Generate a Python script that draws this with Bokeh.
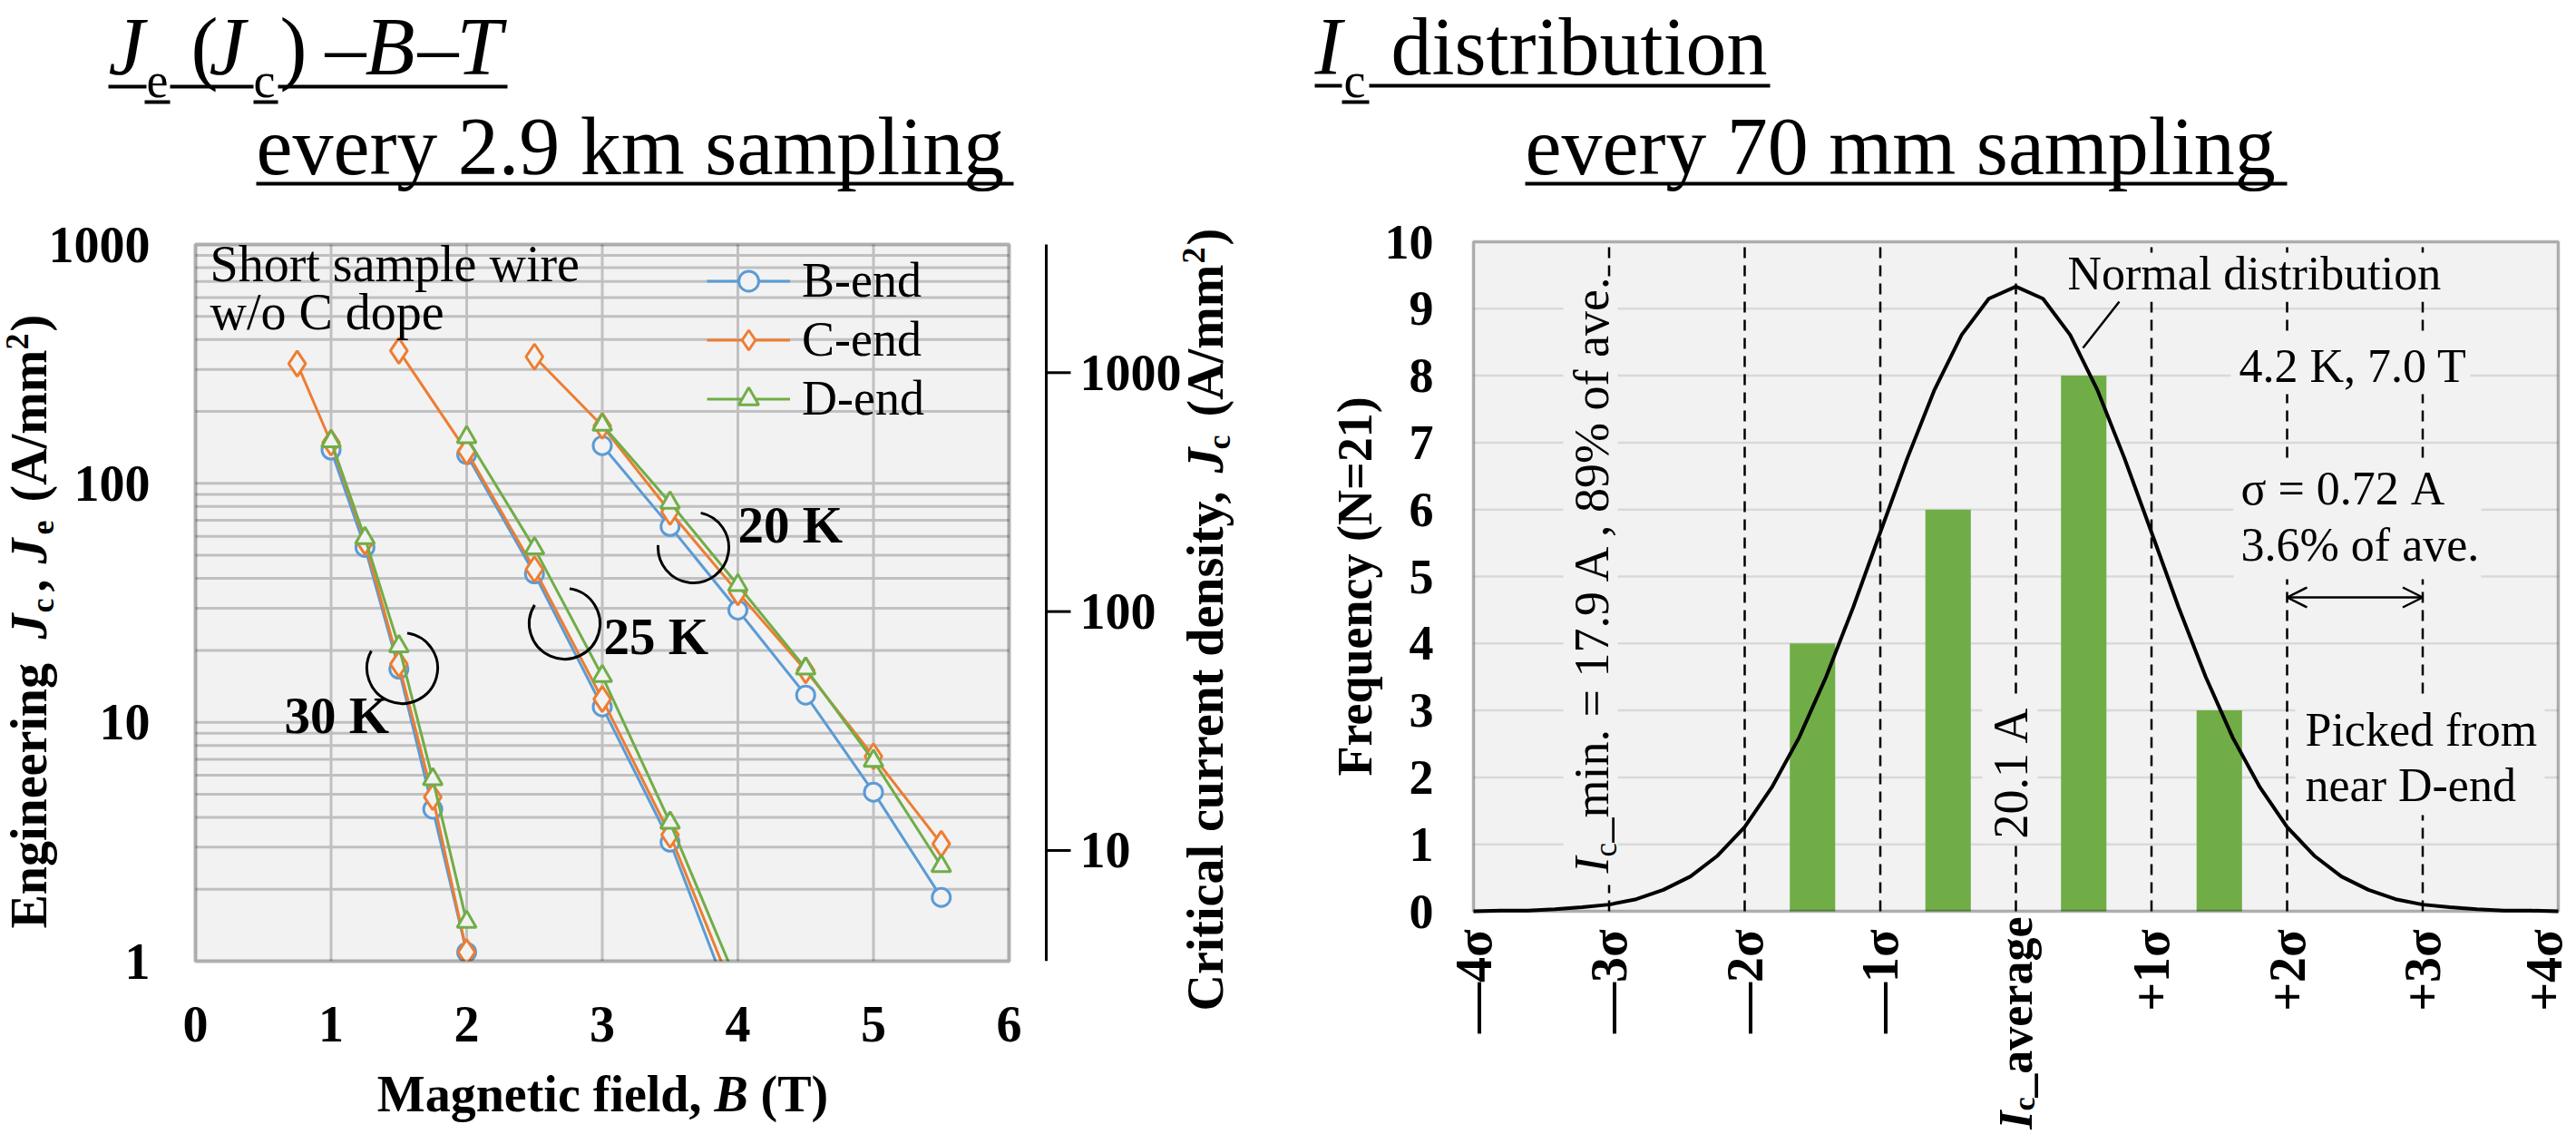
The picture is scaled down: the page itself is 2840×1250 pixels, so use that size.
import numpy as np
from bokeh.plotting import figure
from bokeh.models import (Range1d, Label, BoxAnnotation, Legend, LegendItem, Arrow, OpenHead, LogScale)
from bokeh.layouts import row
from bokeh.embed import file_html
from bokeh.resources import INLINE

FONT = "Liberation Serif"
BLUE, ORANGE, GREEN = "#5b9bd5", "#ed7d31", "#70ad47"

# ---------------- data : left chart, Je(B) at 30 K / 25 K / 20 K ----------------
bend_B_30 = [1.0, 1.25, 1.5, 1.75, 2.0]
bend_Je_30 = [138, 54, 16.7, 4.33, 1.09]
bend_B_25 = [2.0, 2.5, 3.0, 3.5, 4.0]
bend_Je_25 = [132, 41.8, 11.6, 3.15, 0.57]
bend_B_20 = [3.0, 3.5, 4.0, 4.5, 5.0, 5.5]
bend_Je_20 = [144, 66, 29.5, 13.0, 5.1, 1.85]

cend_B_30 = [0.75, 1.0, 1.25, 1.5, 1.75, 2.0]
cend_Je_30 = [317, 148, 57, 17.5, 4.86, 1.09]
cend_B_25 = [1.5, 2.0, 2.5, 3.0, 3.5, 4.0]
cend_Je_25 = [359, 136, 43.7, 12.5, 3.38, 0.67]
cend_B_20 = [2.5, 3.0, 3.5, 4.0, 4.5, 5.0, 5.5]
cend_Je_20 = [339, 174, 76, 35, 16.5, 7.2, 3.1]

dend_B_30 = [1.0, 1.25, 1.5, 1.75, 2.0]
dend_Je_30 = [150, 59, 20.8, 5.78, 1.46]
dend_B_25 = [2.0, 2.5, 3.0, 3.5, 4.0]
dend_Je_25 = [156, 53.5, 15.6, 3.8, 0.80]
dend_B_20 = [3.0, 3.5, 4.0, 4.5, 5.0, 5.5]
dend_Je_20 = [176, 83, 37.5, 16.8, 6.9, 2.5]

x_ticks_left = [0, 1, 2, 3, 4, 5, 6]
y_ticks_left = [1, 10, 100, 1000]
y_minor_left = [2, 3, 4, 5, 6, 7, 8, 9, 20, 30, 40, 50, 60, 70, 80, 90,
                200, 300, 400, 500, 600, 700, 800, 900]
jc_ticks = [10, 100, 1000]
jc_per_je = 3.44

# ---------------- data : right chart, Ic histogram ----------------
sigma_ticks = [-4, -3, -2, -1, 0, 1, 2, 3, 4]
sigma_labels = ["\u20144\u03c3", "\u20143\u03c3", "\u20142\u03c3", "\u20141\u03c3", "",
                "+1\u03c3", "+2\u03c3", "+3\u03c3", "+4\u03c3"]
bin_centers = [-1.5, -0.5, 0.5, 1.5]
counts = [4, 6, 8, 3]
dashed_sigma = [-3, -2, -1, 0, 1, 2, 3]
freq_ticks = [0, 1, 2, 3, 4, 5, 6, 7, 8, 9, 10]
curve_x = [-4.0, -3.8, -3.6, -3.4, -3.2, -3.0, -2.8, -2.6, -2.4, -2.2, -2.0,
           -1.8, -1.6, -1.4, -1.2, -1.0, -0.8, -0.6, -0.4, -0.2, 0.0,
           0.2, 0.4, 0.6, 0.8, 1.0, 1.2, 1.4, 1.6, 1.8, 2.0,
           2.2, 2.4, 2.6, 2.8, 3.0, 3.2, 3.4, 3.6, 3.8, 4.0]
curve_y = [0.00, 0.01, 0.01, 0.03, 0.06, 0.10, 0.18, 0.32, 0.52, 0.83, 1.26,
           1.85, 2.59, 3.50, 4.54, 5.66, 6.77, 7.79, 8.61, 9.15, 9.33,
           9.15, 8.61, 7.79, 6.77, 5.66, 4.54, 3.50, 2.59, 1.85, 1.26,
           0.83, 0.52, 0.32, 0.18, 0.10, 0.06, 0.03, 0.01, 0.01, 0.00]

H = 1250
PI2 = np.pi / 2
BASE_SHIFT = 0.34   # observed offset of rendered baseline below the anchor (in em)

# ---------------- geometry helpers (canvas px -> data) ----------------
L_W = 1420
L_BOX_L, L_BOX_B, L_BOX_T = 215, 1059, 269
L_PX_PER_T = 149.5


def lx(X):
    return (X - L_BOX_L) / L_PX_PER_T


def ly(Y):
    return 10 ** (3.0 * (L_BOX_B - Y) / (L_BOX_B - L_BOX_T))


R_X0 = 1420
R_W = 2840 - R_X0
R_BOX_L, R_BOX_B, R_BOX_T = 1624, 1004, 266
R_PX_PER_S = 149.5


def rx(X):
    return (X - R_BOX_L) / R_PX_PER_S - 4.0


def ry(Y):
    return (R_BOX_B - Y) / (R_BOX_B - R_BOX_T) * 10.0


def txt(p, fx, fy, X, Y, s, size, style="normal", align="left", base="alphabetic", angle=0.0):
    """X, Y: canvas px of the text baseline start (or anchor for 'middle')."""
    if base == "alphabetic":
        if angle == 0.0:
            Y = Y - BASE_SHIFT * size
        else:
            X = X - BASE_SHIFT * size
    p.add_layout(Label(x=fx(X), y=fy(Y), text=s, text_font=FONT, text_font_size=f"{size}px",
                       text_font_style=style, text_align=align, text_baseline=base,
                       angle=angle, text_color="black"))


def hbar(p, fx, fy, X0, X1, Y, t=4):
    p.add_layout(BoxAnnotation(left=fx(X0), right=fx(X1), top=fy(Y - t / 2), bottom=fy(Y + t / 2),
                               fill_color="black", fill_alpha=1, line_color=None, level="overlay"))


def bg_box(p, fx, fy, X0, X1, Y0, Y1):
    p.add_layout(BoxAnnotation(left=fx(X0), right=fx(X1), top=fy(Y0), bottom=fy(Y1),
                               fill_color="#f2f2f2", fill_alpha=1, line_color=None, level="annotation"))


# ======================= LEFT FIGURE =======================
pl = figure(width=L_W, height=H, x_range=Range1d(lx(0), lx(L_W)), y_range=Range1d(ly(H), ly(0)),
            y_axis_type="log", x_axis_location=None, y_axis_location=None,
            output_backend="svg", toolbar_location=None, min_border=0)
pl.background_fill_color = "white"
pl.border_fill_color = "white"
pl.outline_line_color = None
pl.xgrid.visible = False
pl.ygrid.visible = False
pl.extra_y_ranges = {"jc": Range1d(ly(H) * jc_per_je, ly(0) * jc_per_je)}
pl.extra_y_scales = {"jc": LogScale()}

x0, x1 = x_ticks_left[0], x_ticks_left[-1]
y0, y1 = y_ticks_left[0], y_ticks_left[-1]
# plot box
pl.add_layout(BoxAnnotation(left=x0, right=x1, bottom=y0, top=y1, fill_color="#f2f2f2",
                            fill_alpha=1, line_color=None, level="underlay"))
# grid
hl = y_minor_left + y_ticks_left[1:-1]
pl.segment(x0=[x0] * len(hl), x1=[x1] * len(hl), y0=hl, y1=hl, line_color="#c0c0c0", line_width=3)
vl = x_ticks_left[1:-1]
pl.segment(x0=vl, x1=vl, y0=[y0] * len(vl), y1=[y1] * len(vl), line_color="#c0c0c0", line_width=3)


def joined(groups):
    xs, ys = [], []
    for bx, je in groups:
        if xs:
            xs.append(np.nan)
            ys.append(np.nan)
        xs += list(bx)
        ys += list(je)
    return xs, ys


series = [
    ("B-end", BLUE, "circle", 20, [(bend_B_30, bend_Je_30), (bend_B_25, bend_Je_25), (bend_B_20, bend_Je_20)]),
    ("C-end", ORANGE, "diamond", 28, [(cend_B_30, cend_Je_30), (cend_B_25, cend_Je_25), (cend_B_20, cend_Je_20)]),
    ("D-end", GREEN, "triangle", 21, [(dend_B_30, dend_Je_30), (dend_B_25, dend_Je_25), (dend_B_20, dend_Je_20)]),
]
items = []
for name, col, mk, sz, groups in series:
    xs, ys = joined(groups)
    rl = pl.line(xs, ys, line_color=col, line_width=3)
    rs = pl.scatter(xs, ys, marker=mk, size=sz, line_color=col, line_width=3, fill_color="#f2f2f2")
    items.append(LegendItem(label=name, renderers=[rl, rs]))

# temperature brackets
for (cx, cy, a0, a1) in [(443, 736, 151, 82), (622, 687, 148, 82), (764, 603, 176, 78)]:
    pl.arc(x=[lx(cx)], y=[ly(cy)], radius=39, radius_units="screen",
           start_angle=np.deg2rad(a0), end_angle=np.deg2rad(a1), direction="anticlock",
           line_color="black", line_width=3)

# Jc axis (right)
ax_x = lx(1153)
pl.segment(x0=[ax_x], x1=[ax_x], y0=[y0], y1=[y1], line_color="black", line_width=3)
pl.segment(x0=[ax_x] * len(jc_ticks), x1=[lx(1180)] * len(jc_ticks), y0=jc_ticks, y1=jc_ticks,
           y_range_name="jc", line_color="black", line_width=3)

# hide whatever goes below the plot box
pl.add_layout(BoxAnnotation(top=y0, fill_color="white", fill_alpha=1, line_color=None, level="annotation"))
# plot box outline
pl.add_layout(BoxAnnotation(left=x0, right=x1, bottom=y0, top=y1, fill_alpha=0,
                            line_color="black", line_width=4, level="overlay"))

leg = Legend(items=items, location=(779, 780), orientation="vertical", glyph_width=92,
             glyph_height=55, label_height=40, label_standoff=13, spacing=3, padding=0, margin=0,
             border_line_color=None, background_fill_alpha=0, label_text_font=FONT,
             label_text_font_size="54px", label_text_color="black")
pl.add_layout(leg)

# tick labels
for v in y_ticks_left:
    pl.add_layout(Label(x=lx(165), y=v, text=str(v), text_font=FONT, text_font_size="56px",
                        text_font_style="bold", text_align="right", text_baseline="middle",
                        text_color="black"))
for v in x_ticks_left:
    pl.add_layout(Label(x=v, y=ly(1128), text=str(v), text_font=FONT, text_font_size="56px",
                        text_font_style="bold", text_align="center", text_baseline="middle",
                        text_color="black"))
for v in jc_ticks:
    pl.add_layout(Label(x=lx(1190), y=v, y_range_name="jc", text=str(v), text_font=FONT,
                        text_font_size="56px", text_font_style="bold", text_align="left",
                        text_baseline="middle", text_color="black"))

txt(pl, lx, ly, 313, 807, "30 K", 57, "bold")
txt(pl, lx, ly, 665, 720, "25 K", 57, "bold")
txt(pl, lx, ly, 813, 597, "20 K", 57, "bold")
txt(pl, lx, ly, 231, 310, "Short sample wire", 56)
txt(pl, lx, ly, 231, 363, "w/o C dope", 56)

# left title
txt(pl, lx, ly, 119, 82, "J", 90, "italic")
txt(pl, lx, ly, 161, 107, "e", 54)
txt(pl, lx, ly, 210, 82, "(", 90)
txt(pl, lx, ly, 230, 82, "J", 90, "italic")
txt(pl, lx, ly, 279, 107, "c", 54)
txt(pl, lx, ly, 308, 82, ")", 90)
txt(pl, lx, ly, 358, 82, "\u2013", 90)
txt(pl, lx, ly, 402, 82, "B", 90, "italic")
txt(pl, lx, ly, 460, 82, "\u2013", 90)
txt(pl, lx, ly, 503, 82, "T", 90, "italic")
for a, b in [(119, 161), (187, 279), (306, 559)]:
    hbar(pl, lx, ly, a, b, 95)
for a, b in [(159, 187), (279, 306)]:
    hbar(pl, lx, ly, a, b, 112)
txt(pl, lx, ly, 282, 192, "every 2.9 km sampling", 90)
hbar(pl, lx, ly, 282, 1117, 202)

# left axis title (rotated)
txt(pl, lx, ly, 51, 1023, "Engineering", 56, "bold", angle=PI2)
txt(pl, lx, ly, 51, 704, "J", 56, "bold italic", angle=PI2)
txt(pl, lx, ly, 59, 675, "c", 36, "bold", angle=PI2)
txt(pl, lx, ly, 51, 652, ",", 56, "bold", angle=PI2)
txt(pl, lx, ly, 51, 621, "J", 56, "bold italic", angle=PI2)
txt(pl, lx, ly, 59, 589, "e", 36, "bold", angle=PI2)
txt(pl, lx, ly, 51, 553, "(A/mm", 56, "bold", angle=PI2)
txt(pl, lx, ly, 31, 385, "2", 36, "bold", angle=PI2)
txt(pl, lx, ly, 51, 365, ")", 56, "bold", angle=PI2)

# right (Jc) axis title
txt(pl, lx, ly, 1348, 1114, "Critical current density,", 56, "bold", angle=PI2)
txt(pl, lx, ly, 1348, 521, "J", 56, "bold italic", angle=PI2)
txt(pl, lx, ly, 1356, 495, "c", 36, "bold", angle=PI2)
txt(pl, lx, ly, 1348, 459, "(A/mm", 56, "bold", angle=PI2)
txt(pl, lx, ly, 1328, 290, "2", 36, "bold", angle=PI2)
txt(pl, lx, ly, 1348, 270, ")", 56, "bold", angle=PI2)

# x axis title
txt(pl, lx, ly, 773, 1225, "Magnetic field,", 56, "bold", align="right")
txt(pl, lx, ly, 787, 1225, "B", 56, "bold italic")
txt(pl, lx, ly, 838, 1225, "(T)", 56, "bold")

# ======================= RIGHT FIGURE =======================
pr = figure(width=R_W, height=H, x_range=Range1d(rx(R_X0), rx(2840)), y_range=Range1d(ry(H), ry(0)),
            x_axis_location=None, y_axis_location=None,
            output_backend="svg", toolbar_location=None, min_border=0)
pr.background_fill_color = "white"
pr.border_fill_color = "white"
pr.outline_line_color = None
pr.xgrid.visible = False
pr.ygrid.visible = False

sx0, sx1 = sigma_ticks[0], sigma_ticks[-1]
fy0, fy1 = freq_ticks[0], freq_ticks[-1]
pr.add_layout(BoxAnnotation(left=sx0, right=sx1, bottom=fy0, top=fy1, fill_color="#f2f2f2",
                            fill_alpha=1, line_color=None, level="underlay"))
hg = freq_ticks[1:-1]
pr.segment(x0=[sx0] * len(hg), x1=[sx1] * len(hg), y0=hg, y1=hg, line_color="#d9d9d9", line_width=2.5)
pr.segment(x0=dashed_sigma, x1=dashed_sigma, y0=[fy0] * len(dashed_sigma), y1=[fy1] * len(dashed_sigma),
           line_color="black", line_width=2.5, line_dash="12 8")

pr.vbar(x=bin_centers, top=counts, width=0.335, fill_color=GREEN, line_color=None)
pr.line(curve_x, curve_y, line_color="black", line_width=4)

# text boxes hiding grid / dashed lines
bg_box(pr, rx, ry, 1723, 1783, 311, 975)
bg_box(pr, rx, ry, 2185, 2246, 771, 929)
bg_box(pr, rx, ry, 2272, 2698, 278, 332)
bg_box(pr, rx, ry, 2459, 2723, 368, 434)
bg_box(pr, rx, ry, 2462, 2735, 505, 638)
bg_box(pr, rx, ry, 2530, 2805, 771, 898)

pr.add_layout(BoxAnnotation(left=sx0, right=sx1, bottom=fy0, top=fy1, fill_alpha=0,
                            line_color="black", line_width=3.5, level="overlay"))

pr.add_layout(Arrow(start=OpenHead(size=22, line_width=2.5), end=OpenHead(size=22, line_width=2.5),
                    x_start=2, y_start=ry(658), x_end=3, y_end=ry(658), line_width=2.5))
pr.add_layout(Arrow(end=None, x_start=rx(2336), y_start=ry(332), x_end=rx(2296), y_end=ry(383),
                    line_width=2.5))

# tick labels
for v in freq_ticks:
    pr.add_layout(Label(x=rx(1580), y=v, text=str(v), text_font=FONT, text_font_size="54px",
                        text_font_style="bold", text_align="right", text_baseline="middle",
                        text_color="black"))
for v, s in zip(sigma_ticks, sigma_labels):
    if s:
        pr.add_layout(Label(x=v, y=ry(1024), text=s, text_font=FONT, text_font_size="56px",
                            text_font_style="bold", text_align="right", text_baseline="middle",
                            angle=PI2, text_color="black",
                            x_offset=(-16 if v == sigma_ticks[-1] else 0)))
# Ic_average tick label
txt(pr, rx, ry, 2222, 1010, "_average", 52, "bold", align="right", base="middle", angle=PI2)
txt(pr, rx, ry, 2231, 1209, "c", 34, "bold", align="right", base="middle", angle=PI2)
txt(pr, rx, ry, 2222, 1224, "I", 52, "bold italic", align="right", base="middle", angle=PI2)

txt(pr, rx, ry, 1773, 962, "I", 54, "italic", angle=PI2)
txt(pr, rx, ry, 1782, 944, "c", 35, angle=PI2)
txt(pr, rx, ry, 1773, 928, "_min. = 17.9 A , 89% of ave.", 54, angle=PI2)
txt(pr, rx, ry, 2235, 924, "20.1 A", 54, angle=PI2)
txt(pr, rx, ry, 2279, 319, "Normal distribution", 52)
txt(pr, rx, ry, 2468, 421, "4.2 K, 7.0 T", 52)
txt(pr, rx, ry, 2470, 556, "\u03c3 = 0.72 A", 52)
txt(pr, rx, ry, 2470, 618, "3.6% of ave.", 52)
txt(pr, rx, ry, 2541, 822, "Picked from", 52)
txt(pr, rx, ry, 2541, 883, "near D-end", 52)

# y axis title
txt(pr, rx, ry, 1512, 855, "Frequency (N=21)", 54, "bold", angle=PI2)

# right title
txt(pr, rx, ry, 1449, 82, "I", 90, "italic")
txt(pr, rx, ry, 1481, 107, "c", 54)
txt(pr, rx, ry, 1533, 82, "distribution", 90)
for a, b in [(1449, 1479), (1509, 1951)]:
    hbar(pr, rx, ry, a, b, 94)
hbar(pr, rx, ry, 1479, 1509, 112)
txt(pr, rx, ry, 1681, 192, "every 70 mm sampling", 90)
hbar(pr, rx, ry, 1681, 2521, 202)

layout = row(pl, pr)
open("out.html", "w").write(file_html(layout, INLINE))
